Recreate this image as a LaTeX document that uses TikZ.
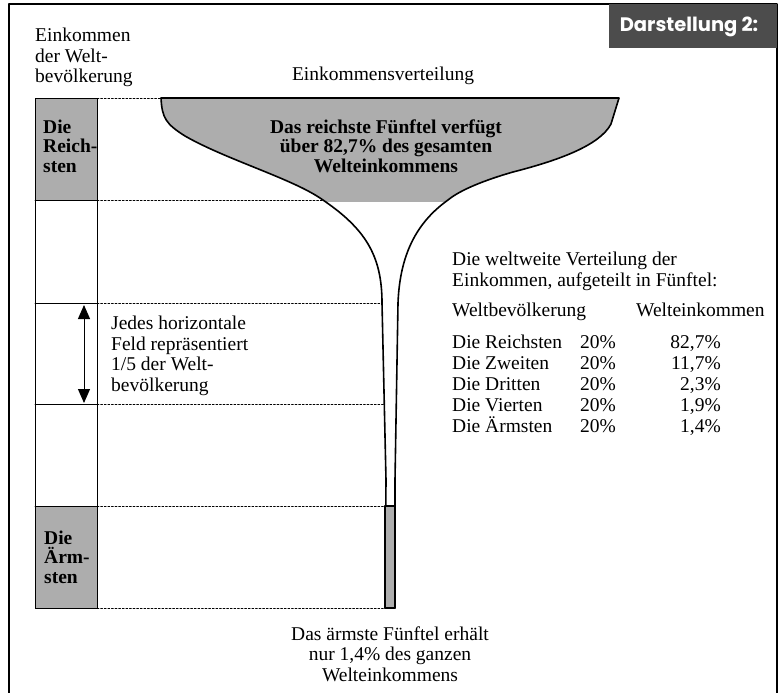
\documentclass[tikz,border=0pt]{standalone}
\usepackage{fontspec}
\setmainfont{Liberation Serif}
\newfontfamily\titlefont{Poppins}
\usetikzlibrary{arrows.meta}

\begin{document}
\begin{tikzpicture}[x=1pt, y=-1pt, line cap=round, line join=round,
    txt/.style={font=\fontsize{19.5}{20.5}\selectfont, inner sep=0pt, align=left},
    boldtxt/.style={txt, font=\fontsize{19.5}{19.5}\selectfont\bfseries},
    rowline/.style={line width=0.6pt, dash pattern=on 2pt off 1.6pt},
    greyfill/.style={fill=black!32},
    funnel/.style={line width=1.6pt}]

\useasboundingbox (0,0) rectangle (782,693);

% Frame and title
\draw[line width=1.2pt] (9,693) -- (9,4) -- (777,4) -- (777,693);
\fill[black!70] (609,4) rectangle (777,48);
\node[text=white, font=\titlefont\fontsize{19.5}{22}\selectfont\bfseries, inner sep=0pt]
    (title) at (689,27) {Darstellung 2:};

% Headings (base anchor sits on the last line)
\node[txt, anchor=base west] (colhead) at (35,83) {Einkommen\\der Welt-\\bevölkerung};
\node[txt, anchor=base] (funhead) at (383,81) {Einkommensverteilung};

% Left column: five rows, first and last shaded
\draw[greyfill] (35,98) rectangle (97,200.5);
\draw[greyfill] (35,506) rectangle (97,608);
\draw[line width=0.9pt] (35,98) rectangle (97,608);
\foreach \y in {200.5,303,404.5,506}
    \draw[line width=0.9pt] (35,\y) -- (97,\y);
\node[boldtxt, anchor=base west] (rich) at (43,172) {Die\\Reich-\\sten};
\node[boldtxt, anchor=base west] (poor) at (44,583) {Die\\Ärm-\\sten};

% Row boundaries
\draw[rowline] (97,98) -- (161,98);
\draw[rowline] (97,200.5) -- (323,200.5);
\draw[rowline] (97,303) -- (382,303);
\draw[rowline] (97,404.5) -- (384,404.5);
\draw[rowline] (97,506) -- (385,506);
\draw[rowline] (97,608) -- (385,608);

% Shaded bowl of the funnel
\begin{scope}
\clip (0,98) rectangle (782,201);
\fill[black!32] (382,303) .. controls (382,255) and (365,228) .. (320,198)
    .. controls (290,178) and (225,159) .. (185,136)
    .. controls (166,124) and (162,118) .. (161,98) -- (619,98) -- (611,124)
    .. controls (600,145) and (560,160) .. (513,172)
    .. controls (485,180) and (460,190) .. (448,200)
    .. controls (420,220) and (400,250) .. (398,303) -- cycle;
\end{scope}

% Funnel outline
\draw[funnel] (385,608) -- (386,480) -- (382,303)
    .. controls (382,255) and (365,228) .. (320,198)
    .. controls (290,178) and (225,159) .. (185,136)
    .. controls (166,124) and (162,118) .. (161,98) -- (619,98) -- (611,124)
    .. controls (600,145) and (560,160) .. (513,172)
    .. controls (485,180) and (460,190) .. (448,200)
    .. controls (420,220) and (400,250) .. (398,303) -- (395,480) -- (395,608);
\draw[greyfill, line width=1.4pt] (385,506) rectangle (395,608);

\node[boldtxt, align=center, anchor=base] (richtext) at (386,172)
    {Das reichste Fünftel verfügt\\über 82,7\% des gesamten\\Welteinkommens};

% One fifth marker
\coordinate (arrtop) at (84,305);
\coordinate (arrbot) at (84,403);
\draw[{Triangle[width=12pt,length=14pt]}-{Triangle[width=12pt,length=14pt]}, line width=1pt]
    (arrtop) -- (arrbot);
\node[txt, anchor=base west] (fifth) at (111,391)
    {Jedes horizontale\\Feld repräsentiert\\1/5 der Welt-\\bevölkerung};

% Table on the right
\node[txt, anchor=base west] (intro) at (452,286)
    {Die weltweite Verteilung der\\Einkommen, aufgeteilt in Fünftel:};
\node[txt, anchor=base west] (pophead) at (452,316) {Weltbevölkerung};
\node[txt, anchor=base west] (inchead) at (636,316) {Welteinkommen};
\begin{scope}[every node/.style={txt, font=\fontsize{19.5}{21}\selectfont}]
\node[anchor=base west] (names) at (452,432)
    {Die Reichsten\\Die Zweiten\\Die Dritten\\Die Vierten\\Die Ärmsten};
\node[anchor=base west] (shares) at (580,432) {20\%\\20\%\\20\%\\20\%\\20\%};
\node[align=right, anchor=base east] (values) at (721,432)
    {82,7\%\\11,7\%\\2,3\%\\1,9\%\\1,4\%};
\end{scope}

% Bottom note
\node[txt, align=center, anchor=base] (poortext) at (390,681)
    {Das ärmste Fünftel erhält\\nur 1,4\% des ganzen\\Welteinkommens};

\end{tikzpicture}
\end{document}
